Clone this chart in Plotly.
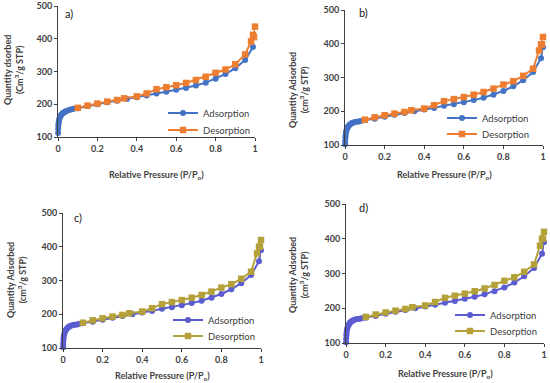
import plotly.graph_objects as go

# ---------------- data ----------------
x_low = [0.0005, 0.001, 0.002, 0.003, 0.005, 0.007, 0.01, 0.013, 0.016, 0.02,
         0.025, 0.03, 0.035, 0.04, 0.05, 0.06, 0.07, 0.08]
x_ads_main = [0.1, 0.15, 0.2, 0.25, 0.3, 0.35, 0.4, 0.45, 0.5, 0.55, 0.6, 0.65,
              0.7, 0.75, 0.8, 0.85, 0.9, 0.95, 0.99]
x_des = [1.0, 0.995, 0.99, 0.98, 0.95, 0.9, 0.85, 0.8, 0.75, 0.7, 0.65, 0.6,
         0.55, 0.5, 0.45, 0.4, 0.335, 0.3, 0.25, 0.2, 0.15, 0.1]

# panel a
a_ads_low = [112, 125, 135, 142, 150, 155, 160, 164, 167, 170, 173, 175, 177, 179,
             181, 183, 185, 186]
a_ads_main = [188, 195, 200, 206, 211, 216, 221, 227, 233, 238, 244, 250, 257, 266,
              278, 292, 310, 335, 375]
a_des = [437, 405, 412, 392, 352, 322, 306, 296, 284, 274, 265, 258, 252, 246, 233,
         224, 218, 213, 208, 202, 196, 189]

# panel b
b_ads_low = [102, 112, 122, 130, 138, 143, 148, 152, 155, 158, 161, 163, 165, 166,
             168, 169, 170, 171]
b_ads_main = [173, 178, 184, 190, 195, 200, 205, 210, 216, 221, 227, 233, 240, 249,
              260, 274, 292, 316, 357]
b_ads_end = [390]
b_des = [420, 398, 398, 380, 326, 305, 289, 279, 267, 257, 249, 242, 236, 230, 218,
         208, 203, 198, 193, 188, 182, 175]

# panel c
c_ads_low = [102, 112, 122, 130, 138, 143, 148, 152, 155, 158, 161, 163, 165, 166,
             168, 169, 170, 171]
c_ads_main = [173, 178, 184, 190, 195, 200, 205, 210, 216, 221, 227, 233, 240, 249,
              260, 274, 292, 316, 357]
c_ads_end = [390]
c_des = [420, 400, 400, 380, 326, 305, 289, 279, 267, 257, 249, 242, 236, 230, 218,
         208, 203, 198, 193, 188, 182, 175]

# panel d
d_ads_low = [102, 112, 122, 130, 138, 143, 148, 152, 155, 158, 161, 163, 165, 166,
             168, 169, 170, 171]
d_ads_main = [173, 178, 184, 190, 195, 200, 205, 210, 216, 221, 227, 233, 240, 249,
              260, 274, 292, 316, 357]
d_ads_end = [390]
d_des = [420, 400, 400, 380, 326, 305, 289, 279, 267, 257, 249, 242, 236, 230, 218,
         208, 203, 198, 193, 188, 182, 175]

x_ticks = [0, 0.2, 0.4, 0.6, 0.8, 1]
x_tick_labels = ["0", "0.2", "0.4", "0.6", "0.8", "1"]
y_ticks = [100, 200, 300, 400, 500]
panel_labels = ["a)", "b)", "c)", "d)"]
y_titles = ["Quantity dsorbed<br>(Cm<sup>3</sup>/g STP)",
            "Quantity Adsorbed<br>(cm<sup>3</sup>/g STP)",
            "Quantity Adsorbed<br>(cm<sup>3</sup>/g STP)",
            "Quantity Adsorbed<br>(cm<sup>3</sup>/g STP)"]
x_title = "Relative Pressure (P/P<sub>o</sub>)"
series_names = ["Adsorption", "Desorption"]

# ---------------- layout helpers ----------------
W, H = 550, 383
FONT = "Lato, 'Open Sans', sans-serif"
TXT = "#404040"

# pixel boxes: (x0, x1, ytop, ybottom)
boxes = [(58, 255, 6, 137), (345, 543, 10, 145), (63, 261, 213, 348), (346, 544, 204, 343)]
colors = [("#4472C4", "#ED7D31"), ("#4472C4", "#ED7D31"),
          ("#5B5BD2", "#B5A13A"), ("#5B5BD2", "#B5A13A")]
ytitle_pos = [(13, 70), (298, 90), (16, 280), (298, 275)]
xtitle_y = [175, 175, 376, 374]
label_pos = [(63, 13), (357, 12), (72, 217), (357, 207)]
# legend: (left x, centre y of item 1, centre y of item 2)
legend_pos = [(163, 113, 130), (442, 118, 134), (168, 320, 336), (450, 315, 331)]

panels = [
    (x_low + x_ads_main, a_ads_low + a_ads_main, a_des),
    (x_low + x_ads_main + [1.0], b_ads_low + b_ads_main + b_ads_end, b_des),
    (x_low + x_ads_main + [1.0], c_ads_low + c_ads_main + c_ads_end, c_des),
    (x_low + x_ads_main + [1.0], d_ads_low + d_ads_main + d_ads_end, d_des),
]

fig = go.Figure()
annotations = []
layout = {}
for i, (xa, ya, yd) in enumerate(panels):
    n = "" if i == 0 else str(i + 1)
    x0, x1, yt, yb = boxes[i]
    ca, cd = colors[i]
    leg_a = "legend" if i == 0 else "legend" + str(2 * i + 1)
    leg_d = "legend" + str(2 * i + 2)
    fig.add_trace(go.Scatter(
        x=xa, y=ya, mode="lines+markers", name=series_names[0],
        line=dict(color=ca, width=2), marker=dict(symbol="circle", size=6, color=ca),
        xaxis="x" + n, yaxis="y" + n, legend=leg_a, cliponaxis=False))
    fig.add_trace(go.Scatter(
        x=x_des, y=yd, mode="lines+markers", name=series_names[1],
        line=dict(color=cd, width=2), marker=dict(symbol="square", size=6.5, color=cd),
        xaxis="x" + n, yaxis="y" + n, legend=leg_d, cliponaxis=False))
    layout["xaxis" + n] = dict(
        domain=[x0 / W, x1 / W], range=[0, 1], anchor="y" + n, automargin=False,
        tickvals=x_ticks, ticktext=x_tick_labels, showgrid=False, zeroline=False,
        showline=True, linecolor="#404040", linewidth=1, ticks="outside", ticklen=3,
        tickcolor="#404040", tickfont=dict(family=FONT, size=9, color=TXT, weight="bold"))
    layout["yaxis" + n] = dict(
        domain=[1 - yb / H, 1 - yt / H], range=[100, 500], anchor="x" + n, automargin=False,
        tickvals=y_ticks, showgrid=False, zeroline=False,
        showline=True, linecolor="#404040", linewidth=1, ticks="outside", ticklen=3,
        tickcolor="#404040", tickfont=dict(family=FONT, size=9, color=TXT, weight="bold"))
    lx, ly1, ly2 = legend_pos[i]
    for leg, ly in ((leg_a, ly1), (leg_d, ly2)):
        layout[leg] = dict(x=lx / W, y=1 - ly / H, xanchor="left", yanchor="middle",
                           bgcolor="rgba(0,0,0,0)", font=dict(family=FONT, size=9.5, color=TXT),
                           itemwidth=30)
    tx, ty = ytitle_pos[i]
    annotations.append(dict(x=tx / W, y=1 - ty / H, xref="paper", yref="paper",
                            xanchor="center", yanchor="middle",
                            text=y_titles[i], textangle=-90, showarrow=False,
                            font=dict(family=FONT, size=9, color=TXT, weight="bold")))
    annotations.append(dict(x=(x0 + x1) / 2 / W, y=1 - xtitle_y[i] / H, xref="paper",
                            yref="paper", xanchor="center", yanchor="middle",
                            text=x_title, showarrow=False,
                            font=dict(family=FONT, size=9, color=TXT, weight="bold")))
    px, py = label_pos[i]
    annotations.append(dict(x=px / W, y=1 - py / H, xref="paper", yref="paper",
                            text=panel_labels[i], showarrow=False, xanchor="left",
                            yanchor="middle",
                            font=dict(family=FONT, size=11, color="#202020")))

fig.update_layout(template="none", width=W, height=H,
                  margin=dict(l=0, r=0, t=0, b=0, autoexpand=False),
                  paper_bgcolor="white", plot_bgcolor="white",
                  annotations=annotations, showlegend=True, **layout)
fig.write_html("out.html", config={"displayModeBar": False},
               post_script="document.body.style.margin='0';document.body.style.overflow='hidden';")
